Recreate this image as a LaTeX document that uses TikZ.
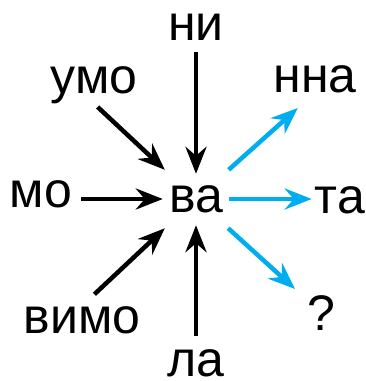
\documentclass[tikz,border=0pt]{standalone}
\usepackage{fontspec}
\setmainfont{Liberation Sans}
\usetikzlibrary{arrows,arrows.meta,positioning,calc}
\definecolor{skyblue}{RGB}{0,174,239}

\begin{document}
\begin{tikzpicture}[x=1pt,y=-1pt,
  word/.style={inner sep=0pt,anchor=base,font=\fontsize{50}{60}\selectfont},
  inarr/.style={line width=4.5pt,-{Stealth[length=27pt,width=21pt,inset=9pt]}},
  outarr/.style={inarr,skyblue}]
  \useasboundingbox (0,0) rectangle (366,381);
  \node[inner sep=0pt,minimum width=66pt,minimum height=58pt,font=\fontsize{50}{60}\selectfont] (va) at (196,199) {ва};
  \node[word] (ni) at (196,40) {ни};
  \node[word] (umo) at (94,93) {умо};
  \node[word] (mo) at (41,207) {мо};
  \node[word] (vimo) at (82,333) {вимо};
  \node[word] (la) at (196,376) {ла};
  \node[word] (nna) at (315,92) {нна};
  \node[word] (ta) at (340,213) {та};
  \node[word] (q) at (321,330) {?};
  \draw[inarr,shorten <=12pt,shorten >=-4pt] (ni.south) -- (va);
  \draw[inarr,shorten <=5pt] (umo.south) -- (va);
  \draw[inarr,shorten <=9pt] (mo.east |- va) -- (va);
  \draw[inarr,shorten <=17pt] (vimo.north) -- (va);
  \draw[inarr,shorten <=13pt,shorten >=-3pt] (la.north) -- (va);
  \draw[outarr,shorten >=23pt] (va) -- (nna.south);
  \draw[outarr,shorten >=3pt] (va) -- (ta.west |- va);
  \draw[outarr,shorten >=16pt] (va) -- (q);
\end{tikzpicture}
\end{document}
